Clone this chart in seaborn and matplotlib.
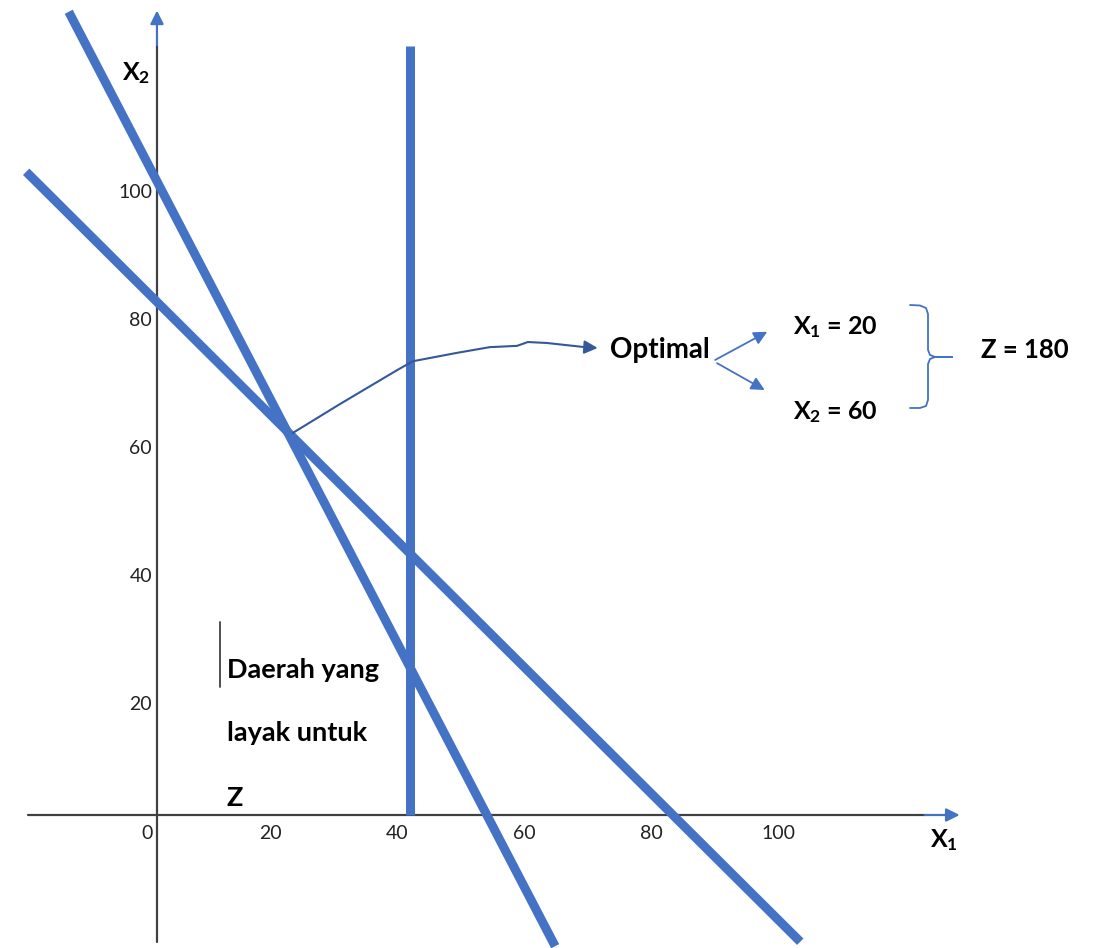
import numpy as np
import pandas as pd
import matplotlib
matplotlib.use("Agg")
import matplotlib.pyplot as plt
import seaborn as sns

# ---------------- data (chart units, axes cross at 0,0) ----------------
line1_x = [-13.9, 62.7]      # steep constraint
line1_y = [125.5, -20.5]
line2_x = [-20.6, 101.3]     # shallow constraint
line2_y = [100.5, -19.8]
line3_x = [39.8, 39.8]       # vertical constraint
line3_y = [0.0, 120.2]

x_ticks = [0, 20, 40, 60, 80, 100]
y_ticks = [20, 40, 60, 80, 100]

opt_x1 = 20
opt_x2 = 60
opt_z = 180

# hand-drawn pointer curve from the optimum to the "Optimal" label
curve_x = [21.4, 28.8, 37.8, 40.3, 47.2, 52.4, 56.7, 58.4, 61.4, 67.4]
curve_y = [59.7, 64.2, 69.5, 70.9, 72.2, 73.1, 73.3, 73.9, 73.75, 73.1]

BLUE = "#4472C4"
DARK = "#404040"
CURVE = "#34589A"

sns.set_theme(style="white")
plt.rcParams["font.family"] = ["Lato", "DejaVu Sans"]
plt.rcParams["mathtext.default"] = "regular"

fig = plt.figure(figsize=(10.97, 9.48), dpi=100)
ax = fig.add_axes([0, 0, 1, 1])

# ---------------- constraint lines ----------------
lw_main = 9 * 72 / 100
for xs, ys in [(line1_x, line1_y), (line2_x, line2_y), (line3_x, line3_y)]:
    df = pd.DataFrame({"x": xs, "y": ys})
    sns.lineplot(data=df, x="x", y="y", ax=ax, estimator=None, sort=False,
                 color=BLUE, lw=lw_main, solid_capstyle="butt", zorder=3)
ax.set_xlim(-24.72, 148.03)
ax.set_ylim(-20.78, 127.34)
ax.axis("off")

# ---------------- axes with arrows ----------------
ax.plot([0, 0], [-19.8, 120.3], color=DARK, lw=1.6, zorder=1)
ax.plot([-20.3, 120.9], [0, 0], color=DARK, lw=1.6, zorder=1)
ax.annotate("", xy=(0, 125.7), xytext=(0, 120.3),
            arrowprops=dict(arrowstyle="-|>", color=BLUE, lw=1.6,
                            mutation_scale=20, shrinkA=0, shrinkB=0))
ax.annotate("", xy=(126.4, 0), xytext=(120.9, 0),
            arrowprops=dict(arrowstyle="-|>", color=BLUE, lw=1.6,
                            mutation_scale=20, shrinkA=0, shrinkB=0))

# ---------------- tick labels ----------------
tick_fs = 14
for v in x_ticks:
    ax.annotate(str(v), xy=(v, 0), xytext=(-14 if v else -10, -18),
                textcoords="offset pixels", ha="center", va="center",
                fontsize=tick_fs, color="#222222")
for v in y_ticks:
    ax.annotate(str(v), xy=(0, v), xytext=(-5, -18),
                textcoords="offset pixels", ha="right", va="center",
                fontsize=tick_fs, color="#222222")

# axis titles
ax.annotate("X$_2$", xy=(0, 115.9), xytext=(-21, 0), textcoords="offset pixels",
            ha="center", va="center", fontsize=18, fontweight="bold", color="black")
ax.annotate("X$_1$", xy=(124.0, 0), xytext=(0, -25), textcoords="offset pixels",
            ha="center", va="center", fontsize=18, fontweight="bold", color="black")

# ---------------- feasible region text ----------------
region_fs = 19.5
ax.text(11.0, 22.7, "Daerah yang", ha="left", va="center", fontsize=region_fs,
        fontweight="bold", color="black")
ax.text(11.0, 12.8, "layak untuk", ha="left", va="center", fontsize=region_fs,
        fontweight="bold", color="black")
ax.text(11.0, 2.7, "Z", ha="left", va="center", fontsize=region_fs,
        fontweight="bold", color="black")
ax.plot([9.9, 9.9], [20.0, 30.2], color=DARK, lw=1.3)

# ---------------- pointer curve and "Optimal" ----------------
ax.plot(curve_x, curve_y, color=CURVE, lw=1.5, zorder=4)
ax.annotate("", xy=(69.4, 72.97), xytext=(curve_x[-1], curve_y[-1]),
            arrowprops=dict(arrowstyle="-|>", color=CURVE, lw=1.5,
                            mutation_scale=20, shrinkA=0, shrinkB=0))
ax.text(79.2, 72.7, "Optimal", ha="center", va="center", fontsize=20,
        fontweight="bold", color="black")

ax.annotate("", xy=(96.1, 75.5), xytext=(87.9, 71.1),
            arrowprops=dict(arrowstyle="-|>", color=BLUE, lw=1.3,
                            mutation_scale=20, shrinkA=0, shrinkB=0))
ax.annotate("", xy=(95.7, 66.4), xytext=(88.2, 70.6),
            arrowprops=dict(arrowstyle="-|>", color=BLUE, lw=1.3,
                            mutation_scale=20, shrinkA=0, shrinkB=0))

ax.text(106.9, 76.25, f"X$_1$ = {opt_x1}", ha="center", va="center",
        fontsize=18, fontweight="bold", color="black")
ax.text(106.9, 63.0, f"X$_2$ = {opt_x2}", ha="center", va="center",
        fontsize=18, fontweight="bold", color="black")

# brace
def px2d(px, py):
    return (px - 157) / 6.35, (815 - py) / 6.4

brace_px = [(910, 305), (920, 305.5), (926, 308), (928, 314), (928, 350),
            (930, 355), (935, 357), (952, 357), (935, 357), (930, 359),
            (928, 364), (928, 400), (926, 406), (920, 408), (910, 408)]
bx, by = zip(*[px2d(a, b) for a, b in brace_px])
ax.plot(bx, by, color=BLUE, lw=1.3, solid_joinstyle="round")

ax.text(136.7, 72.7, f"Z = {opt_z}", ha="center", va="center",
        fontsize=18.5, fontweight="bold", color="black")

fig.savefig("out.png", dpi=100, facecolor="white")
